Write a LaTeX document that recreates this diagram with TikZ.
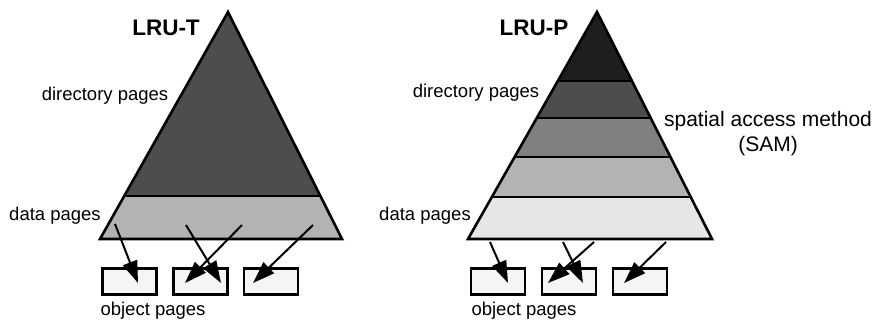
\documentclass[tikz,border=0pt]{standalone}
\usepackage{fontspec}
\setmainfont{Liberation Sans}
\usetikzlibrary{arrows.meta,calc}
\definecolor{ink}{HTML}{000000}
\definecolor{shadeA}{HTML}{1E1E1E}
\definecolor{shadeB}{HTML}{4D4D4D}
\definecolor{shadeC}{HTML}{808080}
\definecolor{shadeD}{HTML}{B3B3B3}
\definecolor{shadeE}{HTML}{E6E6E6}
\definecolor{boxfill}{HTML}{F5F5F5}
\newcommand{\ObjY}{281.5}
\newcommand{\FarX}{877}

\begin{document}
\begin{tikzpicture}[
    x=1pt, y=-1pt, ink,
    font=\fontsize{18.5}{21}\selectfont,
    outline/.style={draw=ink, line width=2.6pt, line join=miter},
    band/.style={draw=ink, line width=2.4pt},
    objbox/.style={draw=ink, line width=2.8pt, fill=boxfill, minimum width=54pt, minimum height=26pt, inner sep=0pt},
    ptr/.style={-{Triangle[length=22pt,width=15pt]}, line width=2pt, draw=ink},
    title/.style={font=\fontsize{22.5}{26}\selectfont\bfseries},
  ]
\useasboundingbox (0,0) rectangle (877,323);

% LRU-T: one dark directory part over one data band
\coordinate (tTop) at (228,12);
\coordinate (tLeft) at (100,239);
\coordinate (tRight) at (342,239);
\begin{scope}
  \clip (tTop) -- (tLeft) -- (tRight) -- cycle;
  \fill[shadeB] (0,0) rectangle (\FarX,196);
  \fill[shadeD] (0,196) rectangle (\FarX,239);
  \draw[band] (0,196) -- (\FarX,196);
\end{scope}
\draw[outline] (tTop) -- (tLeft) -- (tRight) -- cycle;

% LRU-P: five bands, darkest at the top
\coordinate (pTop) at (597,12);
\coordinate (pLeft) at (468,239);
\coordinate (pRight) at (712,239);
\begin{scope}
  \clip (pTop) -- (pLeft) -- (pRight) -- cycle;
  \foreach \ya/\yb/\c in {0/81/shadeA, 81/118/shadeB, 118/157/shadeC, 157/197/shadeD, 197/239/shadeE}
    \fill[\c] (0,\ya) rectangle (\FarX,\yb);
  \foreach \y in {81,118,157,197}
    \draw[band] (0,\y) -- (\FarX,\y);
\end{scope}
\draw[outline] (pTop) -- (pLeft) -- (pRight) -- cycle;

% object pages
\foreach \k/\x in {1/129.5, 2/200.5, 3/271}
  \node[objbox] (tobj\k) at (\x,\ObjY) {};
\foreach \k/\x in {1/498, 2/569, 3/640}
  \node[objbox] (pobj\k) at (\x,\ObjY) {};

% pointers from the data pages
\foreach \n/\tx/\ty/\b/\dx in {1/115/224/tobj1/8.5, 2/186/225/tobj2/20.5, 3/242/225/tobj2/-15.5, 4/313/225/tobj3/-18,
    5/490/242/pobj1/10, 6/563/242/pobj2/14, 7/594/242/pobj2/-21, 8/666/242/pobj3/-16} {
  \coordinate (tail\n) at (\tx,\ty);
  \draw[ptr] (tail\n) -- ($(\b.center)+(\dx,1.5)$);
}

% labels
\node[title] (tTitle) at (166,28) {LRU-T};
\node (tDir) at (105,96) {directory pages};
\node (tData) at (55,216) {data pages};
\node (tObjText) at (153,311) {object pages};
\node[title] (pTitle) at (534,28) {LRU-P};
\node (pDir) at (476,93) {directory pages};
\node[align=center, font=\fontsize{21}{25}\selectfont] (pSam) at (768,134) {spatial access method\\(SAM)};
\node (pData) at (425,216) {data pages};
\node (pObjText) at (524,311) {object pages};

\end{tikzpicture}
\end{document}
